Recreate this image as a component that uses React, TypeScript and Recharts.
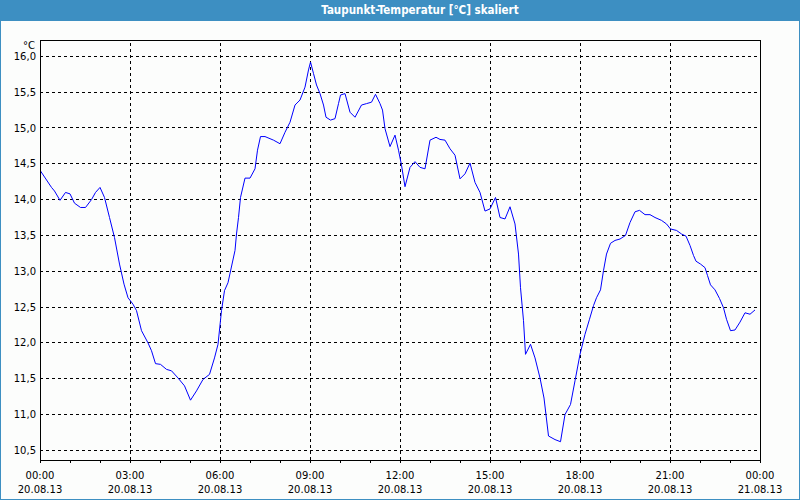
import React from 'react';
import { LineChart, Line, XAxis, YAxis, CartesianGrid, ReferenceLine } from 'recharts';

// minutes since 20.08.13 00:00
const minutes = [
  0, 23, 29, 40, 51, 60, 69, 81, 91, 103, 111, 120, 129, 139, 149, 159, 168, 176, 186, 193,
  203, 216, 223, 231, 241, 253, 263, 276, 289, 301, 313, 326, 339, 349, 356, 363, 369, 376, 390, 393,
  397, 401, 410, 420, 430, 435, 441, 450, 467, 480, 490, 500, 510, 520, 530, 537, 541, 547, 553, 560,
  567, 572, 581, 590, 597, 601, 610, 620, 630, 643, 653, 663, 671, 680, 685, 690, 700, 710, 717, 723,
  730, 740, 750, 760, 770, 780, 792, 800, 810, 820, 830, 840, 850, 860, 870, 880, 890, 900, 911, 920,
  930, 940, 950, 957, 961, 967, 971, 981, 990, 1000, 1008, 1017, 1030, 1041, 1050, 1061, 1070, 1080, 1090, 1099,
  1107, 1113, 1121, 1127, 1133, 1141, 1150, 1160, 1171, 1180, 1190, 1199, 1210, 1220, 1230, 1243, 1253, 1261, 1273, 1283,
  1292, 1300, 1307, 1312, 1321, 1330, 1335, 1341, 1350, 1359, 1367, 1373, 1381, 1390, 1400, 1410, 1420, 1430,
];

const dewPoint = [
  14.41, 14.17, 14.12, 13.99, 14.10, 14.08, 13.95, 13.89, 13.89, 14.00, 14.10, 14.17, 14.03, 13.75, 13.47, 13.10, 12.82, 12.63, 12.54, 12.45,
  12.17, 12.00, 11.89, 11.71, 11.70, 11.63, 11.61, 11.51, 11.40, 11.20, 11.33, 11.49, 11.56, 11.79, 11.98, 12.45, 12.73, 12.84, 13.29, 13.52,
  13.75, 14.03, 14.30, 14.30, 14.43, 14.69, 14.88, 14.88, 14.83, 14.78, 14.94, 15.08, 15.32, 15.39, 15.57, 15.81, 15.92, 15.76, 15.60, 15.48,
  15.32, 15.15, 15.11, 15.13, 15.34, 15.46, 15.48, 15.22, 15.15, 15.32, 15.34, 15.36, 15.47, 15.34, 15.25, 14.99, 14.74, 14.90, 14.69, 14.48,
  14.18, 14.45, 14.53, 14.45, 14.43, 14.83, 14.87, 14.84, 14.83, 14.71, 14.62, 14.29, 14.36, 14.51, 14.24, 14.10, 13.84, 13.87, 14.03, 13.75,
  13.73, 13.90, 13.66, 13.24, 12.77, 12.31, 11.84, 11.98, 11.79, 11.51, 11.23, 10.70, 10.65, 10.62, 11.00, 11.14, 11.47, 11.84, 12.12, 12.33,
  12.52, 12.63, 12.74, 13.01, 13.24, 13.39, 13.43, 13.45, 13.50, 13.68, 13.83, 13.85, 13.79, 13.79, 13.75, 13.71, 13.66, 13.59, 13.57, 13.52,
  13.49, 13.36, 13.22, 13.14, 13.10, 13.05, 12.94, 12.81, 12.74, 12.62, 12.49, 12.33, 12.17, 12.18, 12.29, 12.42, 12.40, 12.46,
];

const hourTicks = [
  0, 60, 120, 180, 240, 300, 360, 420, 480, 540, 600, 660, 720, 780, 840, 900, 960, 1020, 1080, 1140, 1200, 1260, 1320, 1380, 1440,
];
const majorTicks = [0, 180, 360, 540, 720, 900, 1080, 1260, 1440];
const timeLabels = ['00:00', '03:00', '06:00', '09:00', '12:00', '15:00', '18:00', '21:00', '00:00'];
const dateLabels = ['20.08.13', '20.08.13', '20.08.13', '20.08.13', '20.08.13', '20.08.13', '20.08.13', '20.08.13', '21.08.13'];
const yTicks = [10.5, 11, 11.5, 12, 12.5, 13, 13.5, 14, 14.5, 15, 15.5, 16];
const xDomain = [0, 1440];
const yDomain = [10.365, 16.228];
const title = 'Taupunkt-Temperatur [°C] skaliert';
const unit = '°C';

const data = minutes.map((m, i) => ({ m, v: dewPoint[i] }));

const FONT = '"DejaVu Sans", Verdana, sans-serif';

function XTick(props: any) {
  const { x, y, payload } = props;
  const idx = majorTicks.indexOf(payload.value);
  if (idx < 0) return <g />;
  return (
    <g>
      <text x={x} y={y + 14} textAnchor="middle" fontSize={10} fill="#000" fontFamily={FONT}>
        {timeLabels[idx]}
      </text>
      <text x={x} y={y + 28} textAnchor="middle" fontSize={10} fill="#000" fontFamily={FONT}>
        {dateLabels[idx]}
      </text>
    </g>
  );
}

export default function App() {
  return (
    <div
      style={{
        position: 'absolute',
        left: 0,
        top: 0,
        width: 800,
        height: 500,
        boxSizing: 'border-box',
        border: '1px solid #3d8fc2',
        background: '#fcfdfc',
        overflow: 'hidden',
      }}
    >
      <style>{'.recharts-wrapper line { shape-rendering: crispEdges; }'}</style>
      <div
        style={{
          position: 'absolute',
          left: 0,
          top: 0,
          width: 800,
          height: 20,
          background: '#3d8fc2',
        }}
      />
      <div
        style={{
          position: 'absolute',
          left: 219,
          top: 3,
          width: 400,
          textAlign: 'center',
          color: '#fff',
          fontFamily: '"DejaVu Sans Condensed", "DejaVu Sans", sans-serif',
          fontWeight: 'bold',
          fontSize: 11.5,
          lineHeight: '13px',
        }}
      >
        {title}
      </div>
      <div
        style={{
          position: 'absolute',
          left: 0,
          top: 39,
          width: 34,
          textAlign: 'right',
          fontFamily: FONT,
          fontSize: 10,
          lineHeight: '12px',
          color: '#000',
        }}
      >
        {unit}
      </div>
      <div style={{ position: 'absolute', left: -1, top: -1 }}>
        <LineChart width={800} height={500} data={data} margin={{ top: 40, right: 40, bottom: 5, left: 0 }}>
          <CartesianGrid vertical={false} stroke="#000" strokeDasharray="3 3" />
          {majorTicks.slice(1, -1).map((t) => (
            <ReferenceLine key={t} x={t} stroke="#000" strokeDasharray="3 3" />
          ))}
          <ReferenceLine y={yDomain[1]} stroke="#000" />
          <ReferenceLine x={xDomain[1]} stroke="#000" />
          <XAxis
            dataKey="m"
            type="number"
            domain={xDomain}
            ticks={hourTicks}
            interval={0}
            tick={<XTick />}
            tickSize={3}
            tickMargin={2}
            height={35}
            axisLine={{ stroke: '#000' }}
            tickLine={{ stroke: '#000' }}
            allowDataOverflow
          />
          <YAxis
            type="number"
            domain={yDomain}
            ticks={yTicks}
            interval={0}
            width={40}
            tickLine={false}
            tickSize={0}
            tickMargin={4}
            axisLine={{ stroke: '#000' }}
            allowDataOverflow
            tick={{ fontSize: 10, fill: '#000', fontFamily: FONT }}
            tickFormatter={(v: number) => v.toFixed(1).replace('.', ',')}
          />
          <Line
            type="linear"
            dataKey="v"
            stroke="#0000ff"
            strokeWidth={1}
            dot={false}
            isAnimationActive={false}
          />
        </LineChart>
      </div>
    </div>
  );
}
